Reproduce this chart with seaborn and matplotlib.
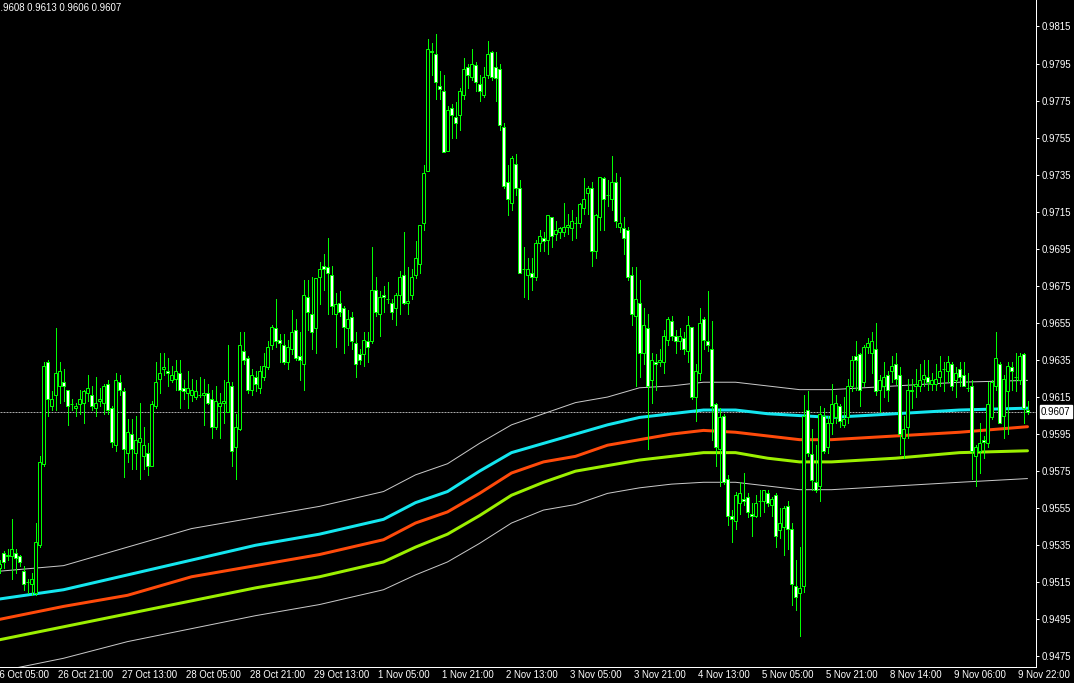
import numpy as np
import pandas as pd
import matplotlib
matplotlib.use("Agg")
import matplotlib.pyplot as plt
import seaborn as sns

# ---------------- data (prices in pips, price = pips / 10000) ----------------
open_p = [
    9523, 9531, 9529, 9529, 9531, 9529, 9521, 9515, 9514, 9509,
    9535, 9579, 9634, 9610, 9616, 9621, 9623, 9619, 9611, 9609,
    9611, 9612, 9617, 9616, 9609, 9613, 9612, 9622, 9609, 9589,
    9623, 9618, 9585, 9595, 9585, 9591, 9583, 9585, 9578, 9610,
    9625, 9630, 9629, 9624, 9625, 9628, 9620, 9617, 9616, 9615,
    9616, 9616, 9617, 9614, 9599, 9610, 9612, 9607, 9621, 9588,
    9598, 9640, 9636, 9619, 9626, 9620, 9626, 9631, 9643, 9652,
    9646, 9643, 9634, 9641, 9651, 9637, 9633, 9669, 9660, 9652,
    9680, 9686, 9685, 9681, 9660, 9666, 9663, 9652, 9658, 9644,
    9638, 9638, 9645, 9645, 9673, 9660, 9670, 9668, 9666, 9663,
    9670, 9681, 9666, 9670, 9681, 9687, 9709, 9737, 9802, 9800,
    9783, 9780, 9748, 9771, 9766, 9767, 9778, 9793, 9788, 9794,
    9784, 9778, 9789, 9801, 9793, 9792, 9761, 9731, 9720, 9741,
    9728, 9684, 9681, 9682, 9680, 9698, 9701, 9700, 9712, 9703,
    9704, 9704, 9707, 9706, 9709, 9709, 9717, 9725, 9728, 9694,
    9712, 9733, 9724, 9722, 9731, 9707, 9706, 9705, 9681, 9659,
    9666, 9639, 9652, 9624, 9634, 9634, 9634, 9646, 9656, 9648,
    9645, 9647, 9640, 9653, 9615, 9628, 9657, 9645, 9641, 9611,
    9587, 9605, 9571, 9551, 9548, 9558, 9560, 9561, 9552, 9551,
    9559, 9559, 9563, 9557, 9562, 9543, 9545, 9556, 9544, 9513,
    9509, 9513, 9608, 9584, 9569, 9567, 9605, 9588, 9601, 9604,
    9610, 9600, 9604, 9621, 9637, 9638, 9623, 9642, 9639, 9641,
    9619, 9621, 9627, 9629, 9633, 9627, 9593, 9599, 9618, 9621,
    9621, 9625, 9626, 9622, 9622, 9626, 9630, 9629, 9633, 9624,
    9630, 9627, 9620, 9621, 9583, 9586, 9592, 9590, 9604, 9621,
    9633, 9605, 9618, 9631, 9626, 9624, 9638, 9608,
]
high_p = [
    9527, 9532, 9533, 9549, 9533, 9530, 9524, 9517, 9520, 9547,
    9583, 9634, 9635, 9618, 9652, 9634, 9630, 9619, 9614, 9612,
    9619, 9619, 9627, 9621, 9626, 9620, 9622, 9624, 9610, 9628,
    9627, 9620, 9603, 9603, 9605, 9612, 9599, 9590, 9613, 9634,
    9639, 9639, 9636, 9632, 9635, 9635, 9624, 9629, 9625, 9624,
    9626, 9625, 9622, 9619, 9621, 9617, 9624, 9643, 9623, 9606,
    9650, 9650, 9637, 9630, 9629, 9632, 9639, 9645, 9654, 9668,
    9649, 9649, 9646, 9662, 9657, 9650, 9678, 9678, 9680, 9679,
    9688, 9692, 9701, 9686, 9671, 9672, 9664, 9662, 9661, 9650,
    9641, 9650, 9650, 9696, 9680, 9672, 9675, 9677, 9668, 9671,
    9683, 9704, 9685, 9684, 9699, 9708, 9740, 9808, 9806, 9811,
    9791, 9789, 9772, 9773, 9774, 9782, 9798, 9795, 9803, 9796,
    9789, 9793, 9807, 9802, 9801, 9795, 9763, 9740, 9745, 9746,
    9732, 9696, 9690, 9690, 9700, 9705, 9704, 9713, 9712, 9710,
    9707, 9720, 9714, 9716, 9712, 9720, 9733, 9729, 9731, 9714,
    9734, 9734, 9732, 9745, 9736, 9734, 9712, 9707, 9685, 9685,
    9678, 9663, 9660, 9639, 9638, 9641, 9651, 9658, 9659, 9651,
    9652, 9650, 9659, 9653, 9633, 9663, 9658, 9672, 9656, 9612,
    9609, 9606, 9573, 9554, 9564, 9569, 9574, 9563, 9558, 9562,
    9565, 9565, 9565, 9561, 9563, 9555, 9556, 9559, 9547, 9527,
    9534, 9616, 9618, 9598, 9589, 9610, 9609, 9605, 9622, 9616,
    9611, 9615, 9625, 9637, 9645, 9639, 9643, 9647, 9650, 9655,
    9627, 9634, 9629, 9637, 9639, 9631, 9605, 9625, 9625, 9630,
    9633, 9635, 9635, 9628, 9633, 9637, 9634, 9637, 9634, 9631,
    9634, 9634, 9628, 9624, 9589, 9601, 9594, 9623, 9624, 9650,
    9634, 9627, 9634, 9634, 9639, 9639, 9639, 9613,
]
low_p = [
    9520, 9523, 9527, 9517, 9520, 9524, 9511, 9509, 9508, 9508,
    9534, 9578, 9605, 9608, 9608, 9612, 9613, 9600, 9608, 9605,
    9606, 9601, 9613, 9608, 9605, 9610, 9606, 9606, 9588, 9586,
    9616, 9572, 9580, 9576, 9576, 9571, 9576, 9573, 9578, 9609,
    9617, 9627, 9621, 9623, 9619, 9609, 9614, 9609, 9613, 9614,
    9615, 9600, 9611, 9593, 9598, 9593, 9601, 9607, 9578, 9571,
    9597, 9633, 9617, 9616, 9618, 9617, 9624, 9630, 9641, 9642,
    9634, 9633, 9630, 9638, 9635, 9624, 9619, 9651, 9641, 9639,
    9665, 9673, 9660, 9660, 9642, 9659, 9639, 9643, 9641, 9626,
    9633, 9632, 9634, 9644, 9659, 9648, 9661, 9666, 9657, 9654,
    9660, 9665, 9660, 9668, 9679, 9682, 9705, 9737, 9789, 9776,
    9776, 9747, 9748, 9755, 9755, 9759, 9776, 9782, 9786, 9780,
    9775, 9777, 9787, 9786, 9775, 9759, 9728, 9713, 9716, 9724,
    9682, 9669, 9668, 9673, 9678, 9694, 9694, 9692, 9696, 9700,
    9701, 9702, 9703, 9700, 9701, 9707, 9714, 9714, 9686, 9690,
    9705, 9705, 9718, 9716, 9707, 9704, 9692, 9678, 9654, 9621,
    9626, 9633, 9587, 9612, 9619, 9632, 9628, 9643, 9646, 9639,
    9641, 9638, 9634, 9614, 9602, 9624, 9641, 9640, 9592, 9578,
    9567, 9568, 9546, 9537, 9544, 9552, 9557, 9550, 9540, 9550,
    9551, 9553, 9556, 9551, 9534, 9539, 9530, 9533, 9503, 9500,
    9486, 9510, 9583, 9565, 9564, 9559, 9585, 9585, 9595, 9601,
    9599, 9599, 9601, 9618, 9619, 9610, 9621, 9639, 9628, 9616,
    9607, 9615, 9613, 9623, 9622, 9584, 9582, 9593, 9609, 9615,
    9618, 9621, 9619, 9619, 9619, 9621, 9618, 9623, 9619, 9615,
    9621, 9621, 9618, 9571, 9567, 9574, 9582, 9588, 9603, 9619,
    9601, 9593, 9595, 9619, 9618, 9622, 9601, 9606,
]
close_p = [
    9525, 9526, 9530, 9533, 9528, 9526, 9514, 9515, 9517, 9537,
    9580, 9632, 9614, 9614, 9628, 9629, 9621, 9610, 9611, 9610,
    9614, 9618, 9620, 9610, 9612, 9614, 9621, 9608, 9591, 9624,
    9619, 9587, 9596, 9587, 9592, 9593, 9589, 9578, 9611, 9623,
    9628, 9631, 9628, 9627, 9629, 9619, 9618, 9620, 9619, 9618,
    9616, 9617, 9612, 9599, 9613, 9612, 9613, 9623, 9586, 9599,
    9643, 9635, 9619, 9627, 9622, 9629, 9632, 9642, 9653, 9645,
    9644, 9634, 9642, 9650, 9636, 9635, 9670, 9661, 9650, 9679,
    9684, 9684, 9682, 9664, 9665, 9661, 9653, 9657, 9645, 9633,
    9635, 9646, 9642, 9673, 9661, 9669, 9669, 9668, 9661, 9670,
    9680, 9666, 9667, 9680, 9690, 9708, 9736, 9803, 9801, 9785,
    9781, 9747, 9770, 9767, 9763, 9780, 9792, 9789, 9795, 9785,
    9780, 9788, 9800, 9788, 9787, 9762, 9729, 9722, 9744, 9728,
    9682, 9684, 9684, 9680, 9698, 9702, 9699, 9713, 9702, 9705,
    9706, 9707, 9708, 9710, 9709, 9719, 9722, 9728, 9694, 9713,
    9734, 9722, 9724, 9731, 9710, 9709, 9701, 9680, 9660, 9668,
    9639, 9654, 9621, 9635, 9633, 9635, 9648, 9657, 9648, 9645,
    9648, 9641, 9654, 9615, 9629, 9655, 9646, 9643, 9610, 9588,
    9604, 9569, 9551, 9549, 9562, 9563, 9559, 9553, 9551, 9558,
    9559, 9565, 9558, 9560, 9540, 9547, 9555, 9544, 9514, 9507,
    9512, 9605, 9585, 9570, 9565, 9606, 9586, 9601, 9611, 9612,
    9602, 9603, 9621, 9635, 9635, 9619, 9642, 9644, 9645, 9618,
    9624, 9626, 9619, 9632, 9625, 9595, 9598, 9619, 9619, 9622,
    9624, 9627, 9623, 9624, 9625, 9629, 9630, 9634, 9621, 9628,
    9626, 9621, 9620, 9586, 9588, 9590, 9591, 9611, 9623, 9636,
    9601, 9625, 9632, 9629, 9626, 9637, 9609, 9607,
]

# moving-average / envelope lines, read at these bar indices
ma_bars = [0, 16, 32, 48, 64, 80, 96, 104, 112, 120, 128, 136, 144, 152, 160, 168, 176,
           184, 192, 200, 208, 224, 240, 257]
env_upper = [9521, 9524, 9534, 9544, 9550, 9556, 9564, 9573, 9579, 9590, 9600, 9606, 9612, 9615,
             9620, 9621, 9623, 9623, 9621, 9619, 9619, 9621, 9623, 9624]
ma_cyan = [9506, 9511, 9519, 9527, 9535, 9541, 9549, 9558, 9564, 9575, 9585, 9590, 9595, 9600,
           9604, 9606, 9608, 9608, 9606, 9605, 9604, 9606, 9608, 9609]
ma_orange = [9495, 9502, 9508, 9518, 9524, 9530, 9538, 9547, 9553, 9563, 9574, 9580, 9583, 9589,
             9592, 9595, 9597, 9596, 9594, 9592, 9592, 9594, 9596, 9599]
ma_green = [9484, 9491, 9498, 9505, 9512, 9518, 9526, 9534, 9541, 9551, 9562, 9569, 9575, 9578,
            9581, 9583, 9585, 9585, 9582, 9580, 9580, 9582, 9585, 9586]
env_lower = [9467, 9474, 9483, 9490, 9497, 9503, 9511, 9519, 9526, 9536, 9547, 9554, 9557, 9563,
             9566, 9568, 9569, 9569, 9567, 9565, 9565, 9567, 9569, 9571]

date_labels = ["26 Oct 05:00", "26 Oct 21:00", "27 Oct 13:00", "28 Oct 05:00", "28 Oct 21:00",
               "29 Oct 13:00", "1 Nov 05:00", "1 Nov 21:00", "2 Nov 13:00", "3 Nov 05:00",
               "3 Nov 21:00", "4 Nov 13:00", "5 Nov 05:00", "5 Nov 21:00", "8 Nov 14:00",
               "9 Nov 06:00", "9 Nov 22:00"]
date_label_bars = [-2, 14, 30, 46, 62, 78, 94, 110, 126, 142, 158, 174, 190, 206, 222, 238, 254]
price_ticks = [0.9475, 0.9495, 0.9515, 0.9535, 0.9555, 0.9575, 0.9595, 0.9615, 0.9635, 0.9655,
               0.9675, 0.9695, 0.9715, 0.9735, 0.9755, 0.9775, 0.9795, 0.9815]
last_price = 0.9607
header = "0.9608 0.9613 0.9606 0.9607"

# ---------------- styling ----------------
sns.set_theme(style="dark", rc={
    "axes.facecolor": "black", "figure.facecolor": "black",
    "axes.edgecolor": "white", "axes.grid": False,
    "xtick.color": "white", "ytick.color": "white",
    "text.color": "white",
})
plt.rcParams["font.family"] = ["Liberation Sans", "DejaVu Sans"]

FS = 6.9
PX = 72.0 / 100.0  # one pixel in points

fig = plt.figure(figsize=(10.74, 6.83), dpi=100)
W, H = 1074, 683
ax = fig.add_axes([0, 16 / H, 1036 / W, 667 / H])
ax.set_facecolor("black")

o = np.array(open_p) / 1e4
h = np.array(high_p) / 1e4
l = np.array(low_p) / 1e4
c = np.array(close_p) / 1e4
idx = np.arange(len(o))

# bid line
ax.axhline(last_price, color="#a8a8a8", lw=PX, ls=(0, (2, 1)), zorder=1)

# moving averages via seaborn
mb = np.array(ma_bars)
df_col = pd.concat([
    pd.DataFrame({"bar": mb, "price": np.array(ma_cyan) / 1e4, "line": "cyan"}),
    pd.DataFrame({"bar": mb, "price": np.array(ma_orange) / 1e4, "line": "orange"}),
    pd.DataFrame({"bar": mb, "price": np.array(ma_green) / 1e4, "line": "green"}),
])
df_env = pd.concat([
    pd.DataFrame({"bar": mb, "price": np.array(env_upper) / 1e4, "line": "upper"}),
    pd.DataFrame({"bar": mb, "price": np.array(env_lower) / 1e4, "line": "lower"}),
])
sns.lineplot(data=df_env, x="bar", y="price", hue="line",
             palette={"upper": "#c8c8c8", "lower": "#c8c8c8"},
             linewidth=1.0 * PX, legend=False, estimator=None, sort=False, ax=ax, zorder=2)
sns.lineplot(data=df_col, x="bar", y="price", hue="line",
             palette={"cyan": "#14e6ef", "orange": "#ff4a0a", "green": "#9cf000"},
             linewidth=3.0 * PX, legend=False, estimator=None, sort=False, ax=ax, zorder=3)

# candles
lime = "#00ff00"
ax.vlines(idx, l, h, colors=lime, linewidth=1.0 * PX, zorder=4, antialiased=False)
bottoms = np.minimum(o, c)
heights = np.abs(c - o)
faces = ["black" if cc > oo else "white" for oo, cc in zip(o, c)]
ax.bar(idx, heights, bottom=bottoms, width=0.62, color=faces, edgecolor=lime,
       linewidth=1.0 * PX, zorder=5, antialiased=True)

# axes limits
ax.set_xlim(0.125, 259.125)
ax.set_ylim(0.94693, 0.98293)

# spines
for s in ["top", "left"]:
    ax.spines[s].set_visible(False)
for s in ["right", "bottom"]:
    ax.spines[s].set_color("white")
    ax.spines[s].set_linewidth(1.0 * PX)

# y axis on the right
ax.yaxis.tick_right()
ax.set_yticks(price_ticks)
ax.set_yticklabels([f"{v:.4f}" for v in price_ticks])
ax.tick_params(axis="y", colors="white", length=3 * PX, width=PX, pad=2, labelsize=FS, direction="out")
ax.set_ylabel("")

# x ticks and labels
in_range = [b for b in date_label_bars if 0.125 <= b <= 259.125]
ax.set_xticks(in_range)
ax.set_xticklabels([""] * len(in_range))
ax.tick_params(axis="x", colors="white", length=4 * PX, width=PX, pad=0, direction="out")
ax.set_xlabel("")
for b, lab in zip(date_label_bars, date_labels):
    ax.annotate(lab, xy=(b, 0), xycoords=("data", "axes fraction"),
                xytext=(2.5, -2.5), textcoords="offset pixels",
                ha="left", va="top", color="white", fontsize=FS, annotation_clip=False)

# last price box
ax.annotate(f"{last_price:.4f}", xy=(1, last_price), xycoords=("axes fraction", "data"),
            xytext=(5, 0), textcoords="offset pixels", ha="left", va="center",
            color="black", fontsize=FS, annotation_clip=False,
            bbox=dict(boxstyle="square,pad=0.15", fc="white", ec="white"))

# header text
fig.text(-5 / W, 1 - 3 / H, header, ha="left", va="top", color="white", fontsize=FS)

fig.savefig("out.png", dpi=100, facecolor="black")
